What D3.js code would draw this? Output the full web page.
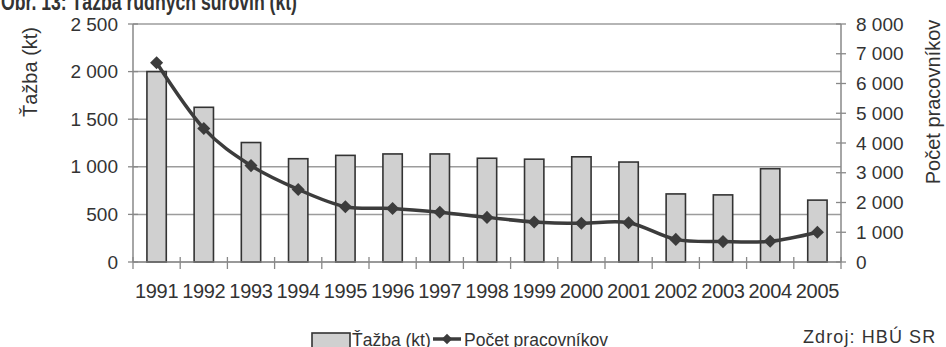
<!DOCTYPE html>
<html>
<head>
<meta charset="utf-8">
<script src="https://cdn.jsdelivr.net/npm/d3@7"></script>
<style>
  html, body { margin: 0; padding: 0; background: #fff; }
  svg { display: block; }
  text { fill: #333; }
</style>
</head>
<body>
<svg id="chart" width="946" height="347"></svg>
<script>
// Years on the category axis
const years = ["1991","1992","1993","1994","1995","1996","1997","1998","1999","2000","2001","2002","2003","2004","2005"];
// Mining output in kilotonnes (bars, left axis)
const tazba = [2000, 1625, 1255, 1085, 1120, 1135, 1135, 1090, 1080, 1105, 1050, 715, 705, 980, 650];
// Number of employees (line, right axis)
const pracovnici = [6700, 4490, 3240, 2440, 1860, 1800, 1670, 1500, 1345, 1300, 1320, 760, 685, 695, 1000];
// Axis tick values
const leftTicks = [0, 500, 1000, 1500, 2000, 2500];
const rightTicks = [0, 1000, 2000, 3000, 4000, 5000, 6000, 7000, 8000];

const title = "Obr. 13: Ťažba rudných surovín (kt)";
const leftTitle = "Ťažba (kt)";
const rightTitle = "Počet pracovníkov";
const source = "Zdroj: HBÚ SR";

const fmt = v => d3.format(",")(v).replace(/,/g, " ");

const svg = d3.select("#chart");
const plot = { left: 133, right: 841, top: 24, bottom: 262 };
const FONT = "'Liberation Sans', Arial, sans-serif";

const x = d3.scaleBand().domain(years).range([plot.left, plot.right])
  .paddingInner(0.59).paddingOuter(0.295);
const yL = d3.scaleLinear().domain([0, 2500]).range([plot.bottom, plot.top]);
const yR = d3.scaleLinear().domain([0, 8000]).range([plot.bottom, plot.top]);
const cx = d => x(d) + x.bandwidth() / 2;

// Figure caption, condensed bold (partly above the top edge)
svg.append("text").attr("x", 1).attr("y", 10)
  .attr("font-family", FONT).attr("font-weight", "bold").attr("font-size", 23)
  .attr("textLength", 296).attr("lengthAdjust", "spacingAndGlyphs")
  .attr("fill", "#222").text(title);

// Horizontal gridlines
svg.append("g").selectAll("line").data(leftTicks.filter(d => d > 0)).join("line")
  .attr("x1", plot.left).attr("x2", plot.right)
  .attr("y1", d => yL(d)).attr("y2", d => yL(d))
  .attr("stroke", "#9c9c9c").attr("stroke-width", 1.5);

// Bars
svg.append("g").selectAll("rect").data(years).join("rect")
  .attr("x", d => x(d)).attr("width", x.bandwidth())
  .attr("y", (d, i) => yL(tazba[i]))
  .attr("height", (d, i) => yL(0) - yL(tazba[i]))
  .attr("fill", "#d0d0d0").attr("stroke", "#333").attr("stroke-width", 1.6);

// Axis frame lines
const axisCol = "#888";
svg.append("line").attr("x1", plot.left).attr("x2", plot.left)
  .attr("y1", plot.top).attr("y2", plot.bottom).attr("stroke", axisCol).attr("stroke-width", 1.5);
svg.append("line").attr("x1", plot.right).attr("x2", plot.right)
  .attr("y1", plot.top).attr("y2", plot.bottom).attr("stroke", axisCol).attr("stroke-width", 1.5);
svg.append("line").attr("x1", plot.left).attr("x2", plot.right)
  .attr("y1", plot.bottom).attr("y2", plot.bottom).attr("stroke", "#777").attr("stroke-width", 1.5);

// Left axis ticks and labels
const gL = svg.append("g");
gL.selectAll("line").data(leftTicks).join("line")
  .attr("x1", plot.left - 5).attr("x2", plot.left + 5)
  .attr("y1", d => yL(d)).attr("y2", d => yL(d))
  .attr("stroke", axisCol).attr("stroke-width", 1.3);
gL.selectAll("text").data(leftTicks).join("text")
  .attr("x", plot.left - 15).attr("y", d => yL(d)).attr("dy", "0.35em")
  .attr("text-anchor", "end").attr("font-family", FONT).attr("font-size", 19)
  .text(fmt);

// Right axis ticks and labels
const gR = svg.append("g");
gR.selectAll("line").data(rightTicks).join("line")
  .attr("x1", plot.right - 5).attr("x2", plot.right + 5)
  .attr("y1", d => yR(d)).attr("y2", d => yR(d))
  .attr("stroke", axisCol).attr("stroke-width", 1.3);
gR.selectAll("text").data(rightTicks).join("text")
  .attr("x", plot.right + 15).attr("y", d => yR(d)).attr("dy", "0.35em")
  .attr("text-anchor", "start").attr("font-family", FONT).attr("font-size", 19)
  .text(fmt);

// Category ticks at band boundaries
const bounds = years.map(d => cx(d) - x.step() / 2).concat([cx(years[years.length - 1]) + x.step() / 2]);
svg.append("g").selectAll("line").data(bounds).join("line")
  .attr("x1", d => d).attr("x2", d => d)
  .attr("y1", plot.bottom - 5).attr("y2", plot.bottom + 7)
  .attr("stroke", axisCol).attr("stroke-width", 1.3);
svg.append("g").selectAll("text").data(years).join("text")
  .attr("x", cx).attr("y", 298)
  .attr("text-anchor", "middle").attr("font-family", FONT).attr("font-size", 20)
  .attr("letter-spacing", -0.3)
  .text(d => d);

// Axis titles
svg.append("text").attr("transform", "translate(37,72) rotate(-90)")
  .attr("text-anchor", "middle").attr("font-family", FONT).attr("font-size", 20)
  .text(leftTitle);
svg.append("text").attr("transform", "translate(940,102) rotate(-90)")
  .attr("text-anchor", "middle").attr("font-family", FONT).attr("font-size", 20)
  .text(rightTitle);

// Employees line with diamond markers
const lineCol = "#3c3c3c";
const line = d3.line().x((d, i) => cx(years[i])).y(d => yR(d))
  .curve(d3.curveCardinal.tension(0));
svg.append("path").datum(pracovnici).attr("d", line)
  .attr("fill", "none").attr("stroke", lineCol).attr("stroke-width", 3.5);
const diamond = d3.symbol(d3.symbolSquare, 85)();
svg.append("g").selectAll("path").data(pracovnici).join("path")
  .attr("d", diamond)
  .attr("transform", (d, i) => `translate(${cx(years[i])},${yR(d)}) rotate(45)`)
  .attr("fill", lineCol);

// Legend (runs off the bottom edge)
const lg = svg.append("g");
lg.append("rect").attr("x", 312).attr("y", 333).attr("width", 38).attr("height", 24)
  .attr("fill", "#d0d0d0").attr("stroke", "#333").attr("stroke-width", 1.6);
lg.append("text").attr("x", 352).attr("y", 346).attr("font-family", FONT).attr("font-size", 17.5)
  .text(leftTitle);
lg.append("line").attr("x1", 433).attr("x2", 461).attr("y1", 339).attr("y2", 339)
  .attr("stroke", lineCol).attr("stroke-width", 3.5);
lg.append("path").attr("d", d3.symbol(d3.symbolSquare, 55)())
  .attr("transform", "translate(447,339) rotate(45)").attr("fill", lineCol);
lg.append("text").attr("x", 464).attr("y", 346).attr("font-family", FONT).attr("font-size", 17.5)
  .text(rightTitle);

// Source note
svg.append("text").attr("x", 803).attr("y", 343)
  .attr("font-family", FONT).attr("font-size", 18).attr("letter-spacing", 1.1)
  .attr("fill", "#222")
  .text(source);
</script>
</body>
</html>
